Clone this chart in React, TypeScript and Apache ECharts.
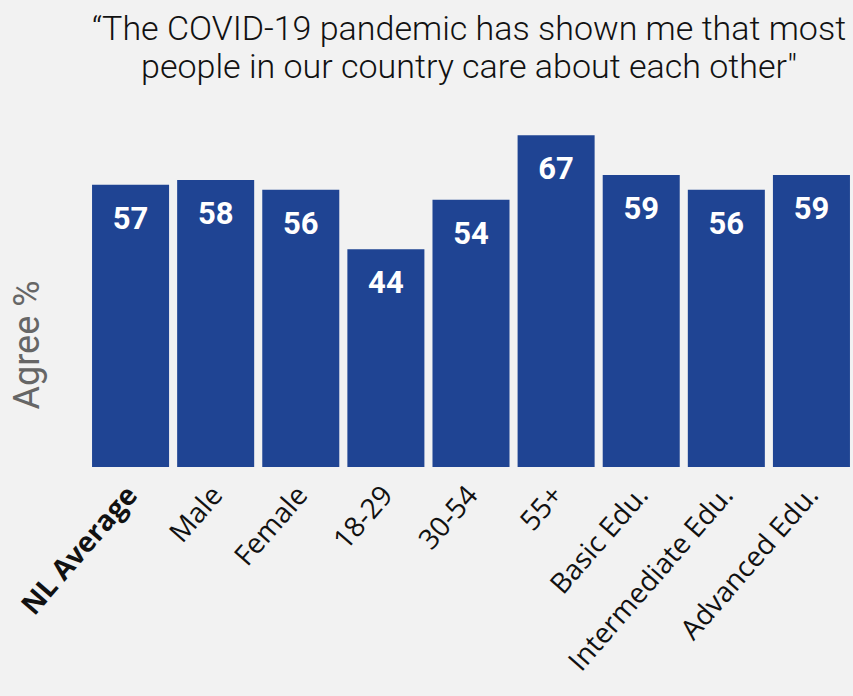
import React, { useEffect, useRef } from "react";
import * as echarts from "echarts";

const categories = ["NL Average", "Male", "Female", "18-29", "30-54", "55+", "Basic Edu.", "Intermediate Edu.", "Advanced Edu."];
const agreeValues = [57, 58, 56, 44, 54, 67, 59, 56, 59];
const titleLines = ["\u201cThe COVID-19 pandemic has shown me that most", "people in our country care about each other\""];
const yAxisTitle = "Agree %";

export default function App() {
  const ref = useRef<HTMLDivElement>(null);
  useEffect(() => {
    if (!ref.current) return;
    const chart = echarts.init(ref.current, null, { renderer: "svg" });
    chart.setOption({
      animation: false,
      backgroundColor: "#f2f2f2",
      title: {
        text: titleLines.join("\n"),
        left: 464,
        textAlign: "center",
        top: 4,
        textStyle: {
          fontFamily: "Roboto",
          fontWeight: 300,
          fontSize: 34,
          lineHeight: 38,
          color: "#111",
        },
      },
      graphic: [
        {
          type: "text",
          x: 27,
          y: 345,
          rotation: Math.PI / 2,
          style: {
            text: yAxisTitle,
            fontFamily: "Roboto",
            fontSize: 36,
            fill: "#666",
            align: "center",
            verticalAlign: "middle",
          },
        },
      ],
      grid: { left: 88, width: 766, top: 120.5, bottom: 229, containLabel: false, outerBoundsMode: "none" },
      xAxis: {
        type: "category",
        data: categories,
        axisLine: { show: false },
        axisTick: { show: false },
        axisLabel: {
          rotate: 49,
          interval: 0,
          margin: 22,
          fontFamily: "Open Sans",
          fontSize: 28,
          color: "#111",
          formatter: (v: string) => (v === "NL Average" ? "{b|" + v + "}" : v),
          rich: { b: { fontWeight: "bold", fontSize: 28, fontFamily: "Open Sans", color: "#111" } },
        },
      },
      yAxis: {
        type: "value",
        min: 0,
        max: 70,
        axisLine: { show: false },
        axisTick: { show: false },
        axisLabel: { show: false },
        splitLine: { show: false },
      },
      series: [
        {
          type: "bar",
          data: agreeValues,
          barCategoryGap: "9.5%",
          itemStyle: { color: "#1f4493" },
          label: {
            show: true,
            position: "insideTop",
            distance: 18,
            color: "#fff",
            fontFamily: "Roboto",
            fontWeight: "bold",
            fontSize: 31,
          },
        },
      ],
    });
    return () => chart.dispose();
  }, []);
  return <div ref={ref} style={{ width: 853, height: 696, position: "fixed", left: 0, top: 0 }} />;
}
